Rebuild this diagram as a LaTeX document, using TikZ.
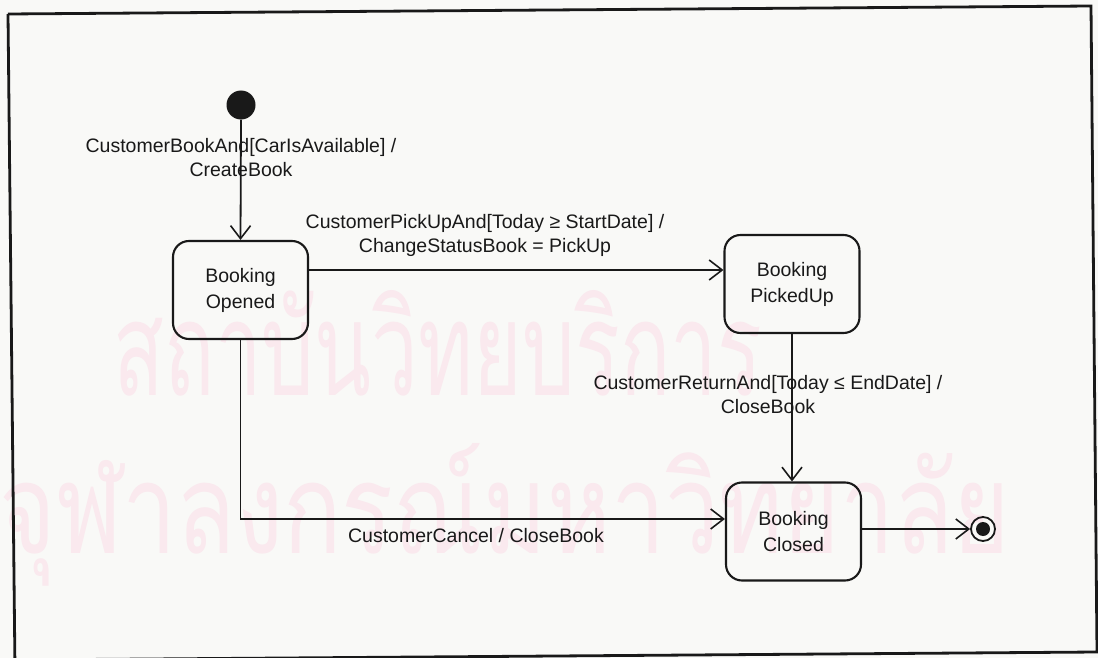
\documentclass[tikz,border=0pt]{standalone}
\usepackage{fontspec}
\setmainfont{Liberation Sans}
\newfontfamily\thaifont[Script=Thai]{Loma}
\usetikzlibrary{arrows.meta}

\definecolor{ink}{RGB}{25,25,25}
\definecolor{paper}{RGB}{249,249,247}
\definecolor{stamp}{RGB}{250,233,238}

\tikzset{
  state/.style={draw=ink, line width=2.1pt, rounded corners=16pt,
    minimum width=135pt, minimum height=98pt, align=center,
    text=ink, font=\fontsize{19.5}{26}\selectfont},
  lbl/.style={align=center, text=ink, inner sep=0pt,
    font=\fontsize{19.5}{24}\selectfont},
  trans/.style={draw=ink, line width=1.8pt,
    -{Straight Barb[length=13pt,width=20pt,line width=1.6pt]}},
  watermark/.style={text=stamp, inner sep=0pt, anchor=base}
}

\begin{document}
\begin{tikzpicture}[x=1pt,y=-1pt]
  % page and scanned frame
  \fill[paper] (0,0) rectangle (1098,658);
  \useasboundingbox (0,0) rectangle (1098,658);

  % library stamp behind the diagram
  \node[watermark] (wmA) at (438,395) {\resizebox{648pt}{105pt}{\thaifont สถาบันวิทยบริการ}};
  \node[watermark] (wmB) at (505,553) {\resizebox{1010pt}{110pt}{\thaifont จุฬาลงกรณ์มหาวิทยาลัย}};

  \draw[ink, line width=2.8pt] (8,14) -- (1091,6) -- (1097,652) -- (14,660);
  \draw[ink, line width=2.8pt] (8,14) -- (15,670);

  % states
  \node[circle, fill=ink, minimum size=29pt, inner sep=0pt] (init) at (241,105) {};
  \node[state] (opened) at (240.5,290) {Booking\\Opened};
  \node[state] (picked) at (792,284) {Booking\\PickedUp};
  \node[state] (closed) at (793.5,531.5) {Booking\\Closed};
  \node[circle, draw=ink, line width=1.8pt, minimum size=24pt, inner sep=0pt] (final) at (983,529) {};
  \node[circle, fill=ink, minimum size=14pt, inner sep=0pt] (finalDot) at (final) {};

  % heights of the horizontal transitions
  \coordinate (yPick) at (0,270);
  \coordinate (yCancel) at (0,519);
  \coordinate (xReturn) at (792,0);

  % transitions
  \draw[trans] (init.south) -- (opened.north);
  \draw[trans] (opened.east |- yPick) -- (picked.west |- yPick);
  \draw[trans] (picked.south -| xReturn) -- (closed.north -| xReturn);
  \draw[trans] (opened.south) |- (closed.west |- yCancel);
  \draw[trans] (closed.east |- final) -- (final.west);

  % transition labels
  \node[lbl] (lInit) at (241,158) {CustomerBookAnd[CarIsAvailable] /\\CreateBook};
  \node[lbl] (lPick) at (485,235) {CustomerPickUpAnd[Today ≥ StartDate] /\\ChangeStatusBook = PickUp};
  \node[lbl] (lReturn) at (768,395) {CustomerReturnAnd[Today ≤ EndDate] /\\CloseBook};
  \node[lbl] (lCancel) at (476,536) {CustomerCancel / CloseBook};
\end{tikzpicture}
\end{document}
